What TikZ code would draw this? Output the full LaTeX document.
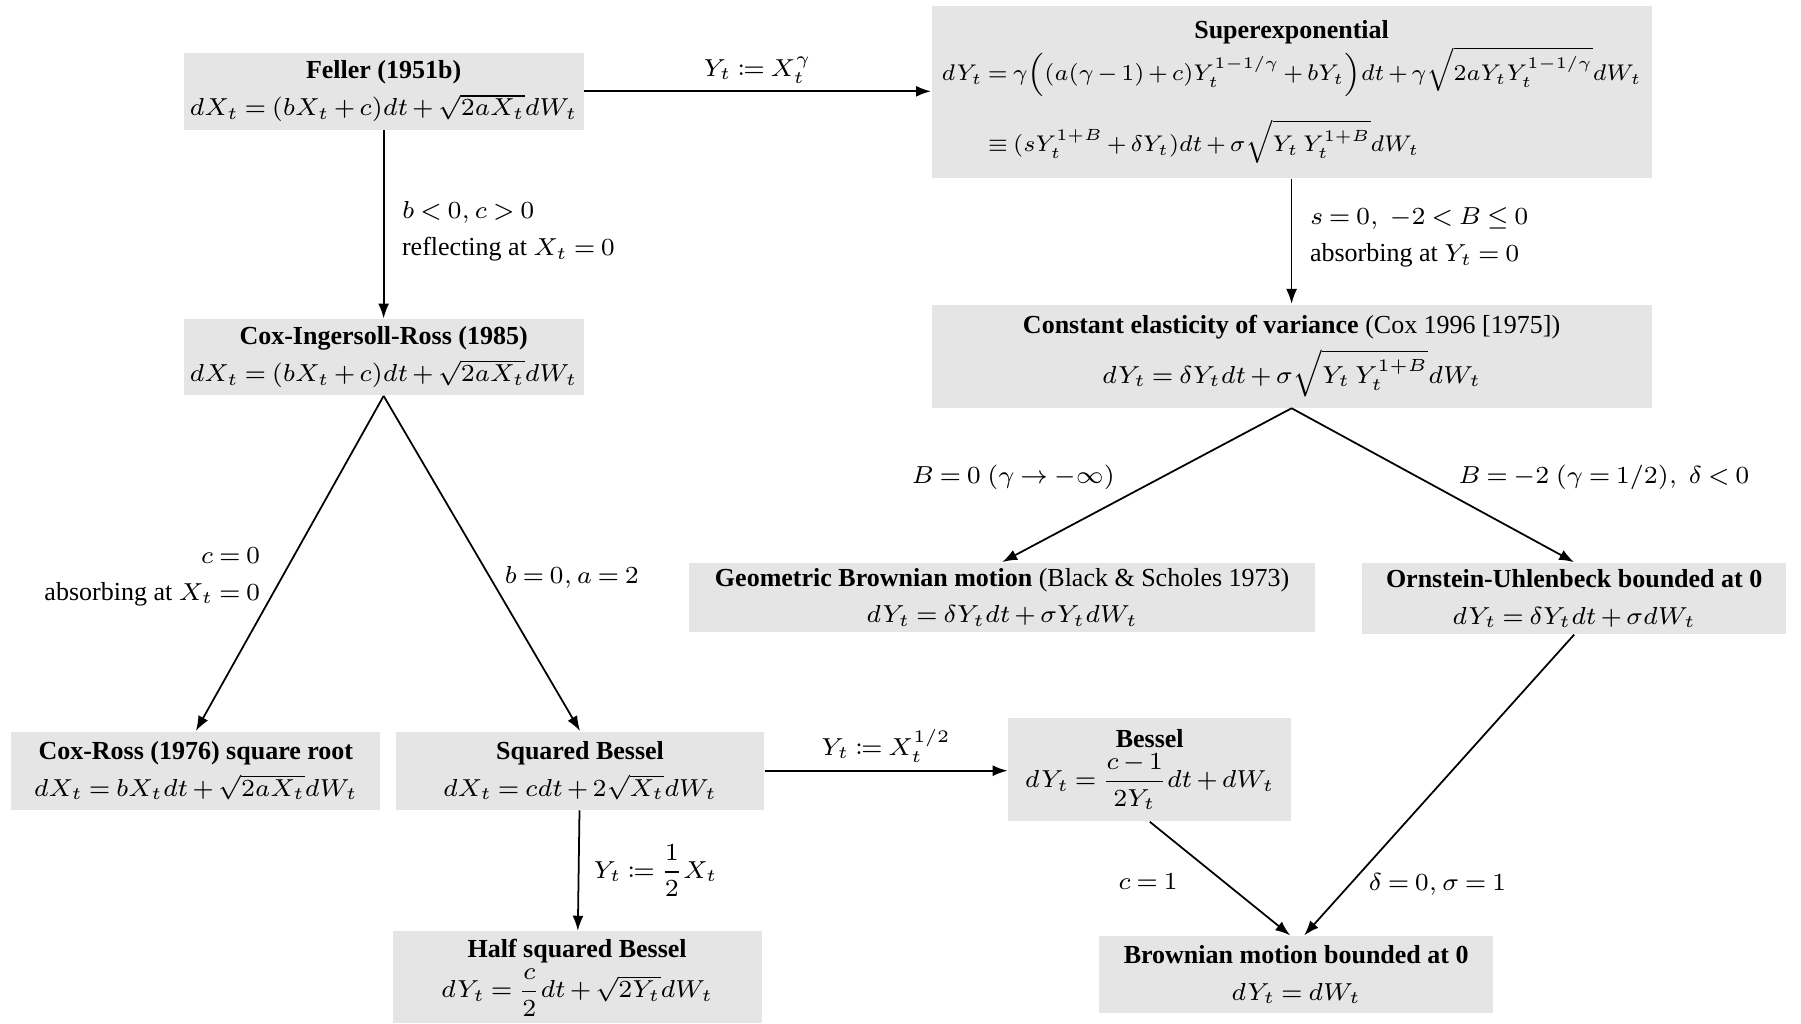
\documentclass[tikz,border=0pt]{standalone}
\usepackage{amsmath,amssymb,amsfonts}
\usepackage{mathtools}
\usepackage{graphicx}
\usepackage{fontspec}
\setmainfont{Liberation Serif}
\usepackage{tikz}
\usetikzlibrary{arrows.meta,positioning}

\newcommand{\tightmath}{\medmuskip=2.5mu plus 1mu minus 1mu\thickmuskip=3.5mu plus 2mu}

\begin{document}
\begin{tikzpicture}[x=0.011486cm, y=-0.011486cm,
  model/.style={fill=black!10, inner sep=1pt, align=center,
    font=\fontsize{7.4}{10.5}\selectfont\tightmath},
  link/.style={-{Latex[length=1.5mm,width=1.1mm]}, line width=.5pt},
  cond/.style={font=\fontsize{7.4}{10.5}\selectfont\tightmath, inner sep=1pt}
  ]
  \useasboundingbox (0,0) rectangle (1568,891);
  % models
  \node[model, minimum width=4cm, minimum height=.77cm] (feller) at (334,79.5)
    {\textbf{Feller (1951b)}\\ $dX_t=(bX_t+c)dt+\sqrt{2aX_t}dW_t$};
  \node[model, minimum width=7.2cm, minimum height=1.72cm] (superexp) at (1124.5,80)
    {\textbf{Superexponential}\\[0pt]
    \resizebox{7cm}{!}{$\begin{aligned}dY_t&=\gamma\Bigl((a(\gamma-1)+c)Y_t^{1-1/\gamma}+bY_t\Bigr)dt
      +\gamma\sqrt{2aY_tY_t^{1-1/\gamma}}dW_t\\[3pt]
      &\equiv(sY_t^{1+B}+\delta Y_t)dt+\sigma\sqrt{Y_t\,Y_t^{1+B}}dW_t\end{aligned}$}};
  \node[model, minimum width=4cm, minimum height=.76cm] (cir) at (334,311)
    {\textbf{Cox-Ingersoll-Ross (1985)}\\ $dX_t=(bX_t+c)dt+\sqrt{2aX_t}dW_t$};
  \node[model, minimum width=7.2cm, minimum height=1.03cm] (cev) at (1124.5,310)
    {\textbf{Constant elasticity of variance} (Cox 1996 [1975])\\[2pt]
    $dY_t=\delta Y_tdt+\sigma\sqrt{Y_t\,Y_t^{1+B}}dW_t$};
  \node[model, minimum width=3.69cm, minimum height=.78cm] (coxross) at (170.5,671)
    {\textbf{Cox-Ross (1976) square root}\\ $dX_t=bX_tdt+\sqrt{2aX_t}dW_t$};
  \node[model, minimum width=3.68cm, minimum height=.78cm] (sqbessel) at (505,671)
    {\textbf{Squared Bessel}\\ $dX_t=cdt+2\sqrt{X_t}dW_t$};
  \node[model, minimum width=2.83cm, minimum height=1.03cm] (bessel) at (1001,670)
    {\textbf{Bessel}\\[1pt] $dY_t=\dfrac{c-1}{2Y_t}dt+dW_t$};
  \node[model, minimum width=3.69cm, minimum height=.92cm] (halfsq) at (502.5,851)
    {\textbf{Half squared Bessel}\\[1pt] $dY_t=\dfrac{c}{2}dt+\sqrt{2Y_t}dW_t$};
  \node[model, minimum width=6.26cm, minimum height=.69cm] (gbm) at (872.5,520)
    {\textbf{Geometric Brownian motion} (Black \& Scholes 1973)\\ $dY_t=\delta Y_tdt+\sigma Y_tdW_t$};
  \node[model, minimum width=4.24cm, minimum height=.71cm] (ou) at (1370.5,521)
    {\textbf{Ornstein-Uhlenbeck bounded at 0}\\ $dY_t=\delta Y_tdt+\sigma dW_t$};
  \node[model, minimum width=3.94cm, minimum height=.77cm] (bm) at (1128.5,848.5)
    {\textbf{Brownian motion bounded at 0}\\ $dY_t=dW_t$};
  % transformations and restrictions
  \draw[link] (feller.east) -- (feller.east -| superexp.west)
    node[cond, midway, above=1pt] {$Y_t\coloneqq X_t^{\gamma}$};
  \draw[link] (feller) -- (cir)
    node[cond, midway, right=4pt, align=left, yshift=-2pt] {$b<0,c>0$\\ reflecting at $X_t=0$};
  \draw[link] (superexp) -- (cev)
    node[cond, midway, right=4pt, align=left, yshift=1pt] {$s=0,\ -2<B\le0$\\ absorbing at $Y_t=0$};
  \draw[link] (cir.south) -- (coxross.north)
    node[cond, pos=.54, left=5pt, align=right] {$c=0$\\ absorbing at $X_t=0$};
  \draw[link] (cir.south) -- (sqbessel.north)
    node[cond, pos=.54, right=3pt] {$b=0,a=2$};
  \draw[link] (sqbessel.east) -- (sqbessel.east -| bessel.west)
    node[cond, midway, above=1pt] {$Y_t\coloneqq X_t^{1/2}$};
  \draw[link] (sqbessel) -- (halfsq)
    node[cond, midway, right=3pt] {$Y_t\coloneqq\dfrac{1}{2}X_t$};
  \draw[link] (cev.south) -- (gbm.north)
    node[cond, pos=.45, left=12pt] {$B=0\ (\gamma\to-\infty)$};
  \draw[link] (cev.south) -- (ou.north)
    node[cond, pos=.45, right=10pt] {$B=-2\ (\gamma=1/2),\ \delta<0$};
  \draw[link] (bessel.south) -- ([xshift=-.06cm]bm.north)
    node[cond, pos=.53, left=12pt] {$c=1$};
  \draw[link] (ou.south) -- ([xshift=.08cm]bm.north)
    node[cond, pos=.83, right=4pt] {$\delta=0,\sigma=1$};
\end{tikzpicture}
\end{document}
